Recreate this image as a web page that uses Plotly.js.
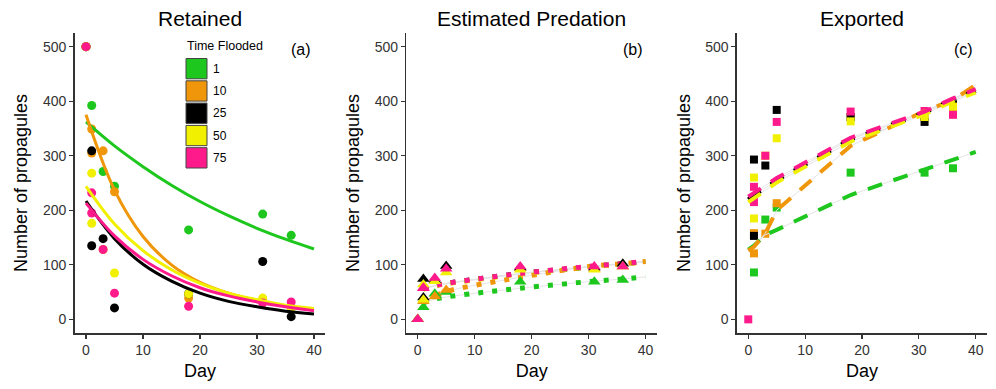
<!DOCTYPE html>
<html><head><meta charset="utf-8">
<script src="https://cdn.plot.ly/plotly-3.0.1.min.js"></script>
<style>html,body{margin:0;padding:0;background:#fff}#chart{width:996px;height:389px}</style>
</head><body><div id="chart"></div>
<script>
// ---- categories ----
const groups = ['1', '10', '25', '50', '75'];
const panelTitles = ['Retained', 'Estimated Predation', 'Exported'];
const panelTags = ['(a)', '(b)', '(c)'];
const xTicks = [0, 10, 20, 30, 40];
const yTicks = [0, 100, 200, 300, 400, 500];

// ---- observed points (days sampled) ----
const pointDays = [0, 1, 1, 3, 5, 18, 31, 36];

const retained1  = [500, 392, null, 271, 244, 164, 193, 154];
const retained10 = [500, 349, 305, 309, 234, 39, 36, 22];
const retained25 = [500, 309, 135, 148, 21, 47, 106, 5];
const retained50 = [500, 268, 176, 128, 85, 47, 39, 21];
const retained75 = [500, 232, 195, 128, 48, 24, 30, 32];

const predation1  = [0, 22, null, 47, 50, 69, 69, 72];
const predation10 = [0, 33, null, 42, 54, 94, 93, 97];
const predation25 = [0, 74, 40, 72, 98, 95, 95, 102];
const predation50 = [0, 64, 36, 70, 86, 91, 91, 97];
const predation75 = [0, 57, 58, 76, 93, 97, 97, 97];

const exported1  = [null, 86, null, 183, 205, 269, 269, 277];
const exported10 = [null, 158, 121, 157, 213, 371, 371, 387];
const exported25 = [null, 293, 153, 282, 384, 371, 362, 397];
const exported50 = [null, 260, 185, 300, 332, 363, 371, 390];
const exported75 = [0, 243, 215, 300, 362, 381, 382, 375];

// ---- fitted curves ----
const fitDaysA = [0, 5, 10, 15, 20, 25, 30, 35, 40];
const retainedFit1  = [362, 318, 280, 246, 216, 190, 167, 147, 129];
const retainedFit10 = [375, 237, 152, 100, 68, 48, 34, 25, 18];
const retainedFit25 = [217, 148, 101, 70, 48, 33, 23, 15, 10];
const retainedFit50 = [244, 175, 126, 91, 66, 48, 36, 26, 20];
const retainedFit75 = [213, 153, 110, 80, 58, 43, 32, 23, 16];

const fitDaysB = [1, 3, 5, 18, 31, 36, 40];
const predationFit1  = [30, 37, 41, 57, 70, 74, 78];
const predationFit10 = [33, 42, 51, 77, 98, 102, 106];
const predationFit25 = [56, 62, 66, 84, 97, 102, 106];
const predationFit50 = [55, 61, 65, 83, 97, 101, 106];
const predationFit75 = [57, 62, 66, 84, 98, 102, 107];

const fitDaysC = [0, 1, 3, 5, 18, 31, 36, 40];
const exportedFit1  = [128, 135, 155, 164, 228, 274, 292, 307];
const exportedFit10 = [126, 133, 158, 200, 318, 382, 402, 430];
const exportedFit25 = [220, 228, 241, 255, 330, 379, 403, 419];
const exportedFit50 = [215, 222, 237, 251, 326, 376, 400, 416];
const exportedFit75 = [225, 232, 245, 259, 333, 381, 405, 422];

// ---- styles ----
const groupColors = ['#1ec71e', '#f0960a', '#000000', '#f0f000', '#ff1a8c'];
const FONT = '"Liberation Sans", Arial, Helvetica, sans-serif';

const retainedPts = [retained1, retained10, retained25, retained50, retained75];
const predationPts = [predation1, predation10, predation25, predation50, predation75];
const exportedPts = [exported1, exported10, exported25, exported50, exported75];
const retainedFits = [retainedFit1, retainedFit10, retainedFit25, retainedFit50, retainedFit75];
const predationFits = [predationFit1, predationFit10, predationFit25, predationFit50, predationFit75];
const exportedFits = [exportedFit1, exportedFit10, exportedFit25, exportedFit50, exportedFit75];

const traces = [];
// Panel a: points then solid curves
groups.forEach((g, i) => {
  traces.push({x: pointDays, y: retainedPts[i], xaxis: 'x', yaxis: 'y', type: 'scatter', mode: 'markers',
    marker: {symbol: 'circle', size: 9, color: groupColors[i]}, showlegend: false, hoverinfo: 'x+y', name: g});
});
groups.forEach((g, i) => {
  traces.push({x: fitDaysA, y: retainedFits[i], xaxis: 'x', yaxis: 'y', type: 'scatter', mode: 'lines',
    line: {color: groupColors[i], width: 3, shape: 'spline', smoothing: 1.0}, showlegend: false, name: g});
});
// Panel b: faint line, dotted fits, then triangles
groups.forEach((g, i) => {
  traces.push({x: fitDaysB, y: predationFits[i], xaxis: 'x2', yaxis: 'y2', type: 'scatter', mode: 'lines',
    line: {color: '#e4e4e4', width: 1, shape: 'spline'}, showlegend: false, hoverinfo: 'skip'});
});
groups.forEach((g, i) => {
  traces.push({x: fitDaysB, y: predationFits[i], xaxis: 'x2', yaxis: 'y2', type: 'scatter', mode: 'lines',
    line: {color: groupColors[i], width: 5, dash: '5px,9px', shape: 'spline'}, showlegend: false, name: g});
});
groups.forEach((g, i) => {
  traces.push({x: pointDays, y: predationPts[i], xaxis: 'x2', yaxis: 'y2', type: 'scatter', mode: 'markers',
    marker: {symbol: 'triangle-up', size: 11, color: groupColors[i]}, showlegend: false, name: g});
});
// Panel c: squares, faint line, dashed fits
groups.forEach((g, i) => {
  traces.push({x: pointDays, y: exportedPts[i], xaxis: 'x3', yaxis: 'y3', type: 'scatter', mode: 'markers',
    marker: {symbol: 'square', size: 8, color: groupColors[i]}, showlegend: false, name: g});
});
groups.forEach((g, i) => {
  traces.push({x: fitDaysC, y: exportedFits[i], xaxis: 'x3', yaxis: 'y3', type: 'scatter', mode: 'lines',
    line: {color: '#e4e4e4', width: 1}, showlegend: false, hoverinfo: 'skip'});
});
groups.forEach((g, i) => {
  traces.push({x: fitDaysC, y: exportedFits[i], xaxis: 'x3', yaxis: 'y3', type: 'scatter', mode: 'lines',
    line: {color: groupColors[i], width: 4, dash: '15px,12px'}, showlegend: false, name: g});
});

const W = 996, H = 389;
const xDomains = [[74.6 / W, 325.4 / W], [406.3 / W, 657.0 / W], [736.9 / W, 987.1 / W]];
const yDomain = [56 / H, 356 / H];

function xAxis(i) {
  return {domain: xDomains[i], anchor: i === 0 ? 'y' : 'y' + (i + 1), range: [-2, 42],
    tickvals: xTicks, ticktext: xTicks.map(String), ticks: 'outside', ticklen: 4, tickwidth: 1.2,
    tickcolor: '#333', showline: true, linecolor: '#333', linewidth: 1.5, showgrid: false, zeroline: false,
    tickfont: {family: FONT, size: 14, color: '#333'},
    title: {text: 'Day', font: {family: FONT, size: 18, color: '#000'}, standoff: 7}};
}
function yAxis(i) {
  return {domain: yDomain, anchor: i === 0 ? 'x' : 'x' + (i + 1), range: [-25, 525],
    tickvals: yTicks, ticktext: yTicks.map(String), ticks: 'outside', ticklen: 4, tickwidth: 1.2,
    tickcolor: '#333', showline: true, linecolor: '#333', linewidth: 1.5, showgrid: false, zeroline: false,
    tickfont: {family: FONT, size: 14, color: '#333'},
    title: {text: 'Number of propagules', font: {family: FONT, size: 18, color: '#000'}, standoff: 10}};
}

const annotations = [];
panelTitles.forEach((t, i) => {
  annotations.push({text: t, xref: 'paper', yref: 'paper', x: (xDomains[i][0] + xDomains[i][1]) / 2,
    y: 1 - 18 / H, xanchor: 'center', yanchor: 'middle', showarrow: false,
    font: {family: FONT, size: 21, color: '#000'}});
});
panelTags.forEach((t, i) => {
  annotations.push({text: t, xref: 'paper', yref: 'paper', x: xDomains[i][1] - 12 / W,
    y: 1 - 50 / H, xanchor: 'right', yanchor: 'middle', showarrow: false,
    font: {family: FONT, size: 16, color: '#000'}});
});
// legend (manual, inside panel a)
annotations.push({text: 'Time Flooded', xref: 'paper', yref: 'paper', x: 185 / W, y: 1 - 46 / H,
  xanchor: 'left', yanchor: 'middle', showarrow: false, font: {family: FONT, size: 12.5, color: '#000'}});
const shapes = [];
const keyTop = 57.5, keyH = 22.3, keyLeft = 186, keyW = 21;
groups.forEach((g, i) => {
  const y0 = keyTop + i * keyH;
  shapes.push({type: 'rect', xref: 'paper', yref: 'paper', x0: keyLeft / W, x1: (keyLeft + keyW) / W,
    y0: 1 - (y0 + keyH - 1) / H, y1: 1 - (y0 + 1) / H, fillcolor: groupColors[i],
    line: {color: '#444', width: 1}});
  annotations.push({text: g, xref: 'paper', yref: 'paper', x: (keyLeft + keyW + 4) / W, y: 1 - (y0 + keyH / 2) / H,
    xanchor: 'left', yanchor: 'middle', showarrow: false, font: {family: FONT, size: 12, color: '#000'}});
});

const layout = {
  width: W, height: H, margin: {l: 0, r: 0, t: 0, b: 0},
  paper_bgcolor: '#fff', plot_bgcolor: '#fff', showlegend: false,
  font: {family: FONT},
  xaxis: xAxis(0), yaxis: yAxis(0), xaxis2: xAxis(1), yaxis2: yAxis(1), xaxis3: xAxis(2), yaxis3: yAxis(2),
  annotations: annotations, shapes: shapes
};
Plotly.newPlot('chart', traces, layout, {staticPlot: true});
</script></body></html>
